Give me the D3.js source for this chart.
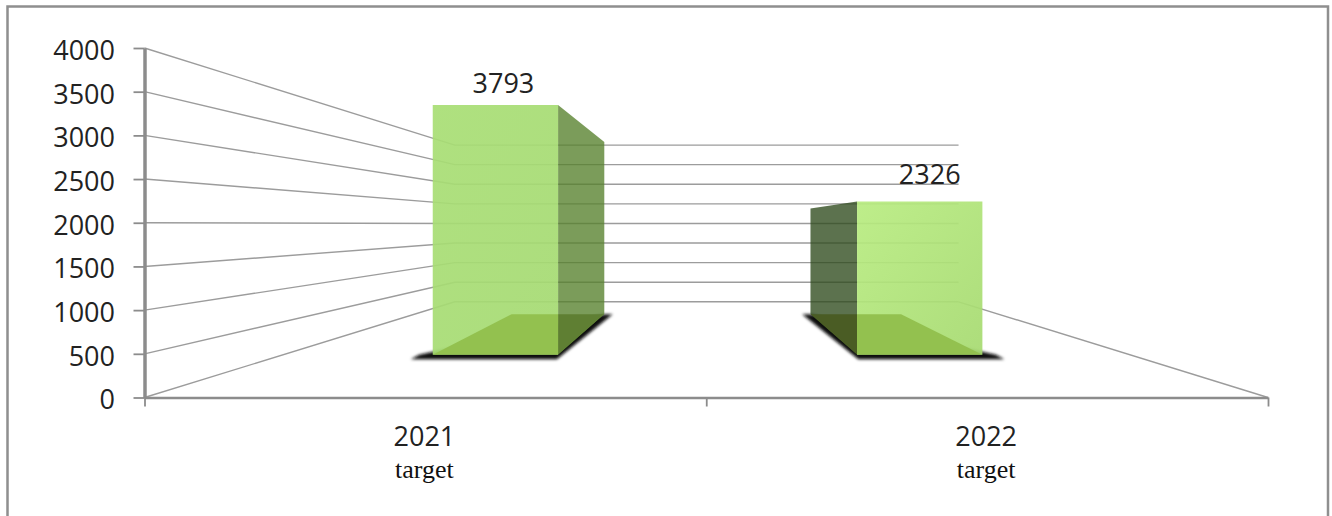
<!DOCTYPE html>
<html>
<head>
<meta charset="utf-8">
<style>
  body { margin: 0; background: #fff; }
  svg { display: block; }
  .num { font-family: "Open Sans", sans-serif; font-size: 27px; fill: #222; }
  .sub { font-family: "Liberation Serif", serif; font-size: 26px; fill: #111; }
</style>
</head>
<body>
<div class="container"></div>
<script src="https://cdn.jsdelivr.net/npm/d3@7/dist/d3.min.js"></script>
<script>
const categories = ['2021', '2022']
const subLabels = ['target', 'target']
const values = [3793, 2326]
const valueTicks = [0, 500, 1000, 1500, 2000, 2500, 3000, 3500, 4000]

const width = 1332
const height = 516

// the chart is a 3D box, everything goes through one vanishing point
const vanishX = 707
const vanishY = 224
const wallFront = 1
const barFront = 0.754
const barBack = 0.52
const wallBack = 0.4484

const yScale = d3.scaleLinear().domain([0, 4000]).range([397.5, 48])

const xScale = d3.scaleBand()
  .domain(categories)
  .range([145, 1270.5])
  .paddingInner(0.7046)
  .paddingOuter(0.3523)

const slotScale = d3.scaleLinear().domain([0, categories.length]).range([144.5, 1268])

function project(x, value, depth) {
  return [
    vanishX + (x - vanishX) * depth,
    vanishY + (yScale(value) - vanishY) * depth
  ]
}

const toPath = (pts) => 'M' + pts.map((p) => p.join(',')).join('L') + 'Z'

const svg = d3.select('.container')
  .append('svg')
  .attr('width', width)
  .attr('height', height)

const defs = svg.append('defs')

defs.append('filter')
  .attr('id', 'soft')
  .attr('x', '-15%').attr('y', '-30%').attr('width', '130%').attr('height', '160%')
  .append('feGaussianBlur')
  .attr('stdDeviation', 1.4)

const frontColours = [['#a8de74', '#a5da72'], ['#b8ec80', '#a6da70']]
const sideColours = ['#56802c', '#2e4a1c']
const floorFront = '#93c14f'
const floorSide = ['#5f7f33', '#4a5c24']

frontColours.forEach((c, i) => {
  const g = defs.append('linearGradient')
    .attr('id', `front${i}`)
    .attr('x1', 0).attr('y1', 0).attr('x2', 1).attr('y2', 1)
  g.append('stop').attr('offset', 0).attr('stop-color', c[0])
  g.append('stop').attr('offset', 1).attr('stop-color', c[1])
})

// frame round the picture
svg.append('path')
  .attr('d', `M7.5,${height}V6.5H1328V${height}`)
  .attr('fill', 'none')
  .attr('stroke', '#8f8f8f')
  .attr('stroke-width', 2.5)

const [x0, x1] = slotScale.range()

// side wall and back wall lines
const grid = svg.append('g')
  .attr('fill', 'none')
  .attr('stroke', '#9c9c9c')
  .attr('stroke-width', 1.4)

grid.selectAll('path.wall')
  .data(valueTicks)
  .enter()
  .append('path')
  .attr('class', 'wall')
  .attr('d', (d) => d3.line()([project(x0, d, wallFront), project(x0, d, wallBack), project(x1, d, wallBack)]))

grid.append('path')
  .attr('d', d3.line()([project(x1, 0, wallBack), project(x1, 0, wallFront)]))

// bars
const bars = svg.selectAll('g.bar')
  .data(categories.map((c, i) => ({ name: c, value: values[i], i })))
  .enter()
  .append('g')
  .attr('class', 'bar')

const left = (d) => xScale(d.name)
const right = (d) => xScale(d.name) + xScale.bandwidth()
// bar 2021 shows its right side, bar 2022 its left side
const sideX = (d) => d.i === 0 ? right(d) : left(d)

const sidePts = (d) => [
  project(sideX(d), d.value, barFront),
  project(sideX(d), d.value, barBack),
  project(sideX(d), 0, barBack),
  project(sideX(d), 0, barFront)
]
const frontPts = (d) => [
  project(left(d), d.value, barFront),
  project(right(d), d.value, barFront),
  project(right(d), 0, barFront),
  project(left(d), 0, barFront)
]
const floorPts = (d) => [
  project(left(d), 0, barFront),
  project(right(d), 0, barFront),
  project(right(d) + (d.i === 0 ? 0 : 8), 0, barBack),
  project(left(d) - (d.i === 0 ? 12 : 0), 0, barBack)
]
const shadowPts = (d) => {
  const out = d.i === 0 ? -1 : 1
  const outer = d.i === 0 ? left(d) : right(d)
  const inner = d.i === 0 ? right(d) : left(d)
  return [
    project(outer + out * 26, -50, 0.76),
    project(inner, -50, 0.76),
    project(inner - out * 16, 0, barBack),
    project(inner, 0, barBack),
    project(outer + out * 18, 0, barFront)
  ]
}

bars.append('path')
  .attr('d', (d) => toPath(shadowPts(d)))
  .attr('fill', '#111')
  .attr('filter', 'url(#soft)')

bars.append('path')
  .attr('d', (d) => toPath(sidePts(d)))
  .attr('fill', (d) => sideColours[d.i])
  .attr('fill-opacity', 0.78)

bars.append('clipPath')
  .attr('id', (d) => `side-clip${d.i}`)
  .append('path')
  .attr('d', (d) => toPath(sidePts(d)))

bars.append('clipPath')
  .attr('id', (d) => `front-clip${d.i}`)
  .append('path')
  .attr('d', (d) => toPath(frontPts(d)))

bars.append('path')
  .attr('d', (d) => toPath(floorPts(d)))
  .attr('fill', (d) => floorSide[d.i])
  .attr('clip-path', (d) => `url(#side-clip${d.i})`)

bars.append('path')
  .attr('d', (d) => toPath(frontPts(d)))
  .attr('fill', (d) => `url(#front${d.i})`)
  .attr('fill-opacity', 0.92)

bars.append('path')
  .attr('d', (d) => toPath(floorPts(d)))
  .attr('fill', floorFront)
  .attr('clip-path', (d) => `url(#front-clip${d.i})`)

// value labels
const labelDx = [8, 10]
const labelDy = [-12, -18]

bars.append('text')
  .attr('class', 'num')
  .attr('text-anchor', 'middle')
  .attr('x', (d) => project((left(d) + right(d)) / 2, d.value, barFront)[0] + labelDx[d.i])
  .attr('y', (d) => project(left(d), d.value, barFront)[1] + labelDy[d.i])
  .text((d) => d.value)

// axes
const yAxis = svg.append('g')
  .attr('transform', `translate(${x0}, 0)`)
  .call(d3.axisLeft(yScale).tickValues(valueTicks).tickFormat(d3.format('d')).tickSize(11).tickSizeOuter(0).tickPadding(18.5))

const xAxis = svg.append('g')
  .attr('transform', `translate(0, ${yScale(0)})`)
  .call(d3.axisBottom(slotScale).tickValues([0, 1, 2]).tickSize(9).tickSizeOuter(0).tickFormat(''))

yAxis.selectAll('.tick line').attr('stroke', '#8c8c8c').attr('stroke-width', 1.8)
xAxis.selectAll('.tick line').attr('stroke', '#8c8c8c').attr('stroke-width', 1.8)
yAxis.select('.domain').attr('stroke', '#8c8c8c').attr('stroke-width', 3.5)
xAxis.select('.domain').attr('stroke', '#8c8c8c').attr('stroke-width', 2.5)

yAxis.selectAll('text')
  .attr('class', 'num')
  .attr('dy', '0.42em')
  .attr('fill', null)
yAxis.attr('font-family', null).attr('font-size', null)

// category labels
const catLabels = svg.selectAll('g.cat')
  .data(categories)
  .enter()
  .append('g')
  .attr('class', 'cat')
  .attr('transform', (d, i) => `translate(${slotScale(i + 0.5) - 1}, 0)`)

catLabels.append('text')
  .attr('class', 'num')
  .attr('text-anchor', 'middle')
  .attr('y', 446)
  .text((d) => d)

catLabels.append('text')
  .attr('class', 'sub')
  .attr('text-anchor', 'middle')
  .attr('y', 478)
  .text((d, i) => subLabels[i])
</script>
</body>
</html>
